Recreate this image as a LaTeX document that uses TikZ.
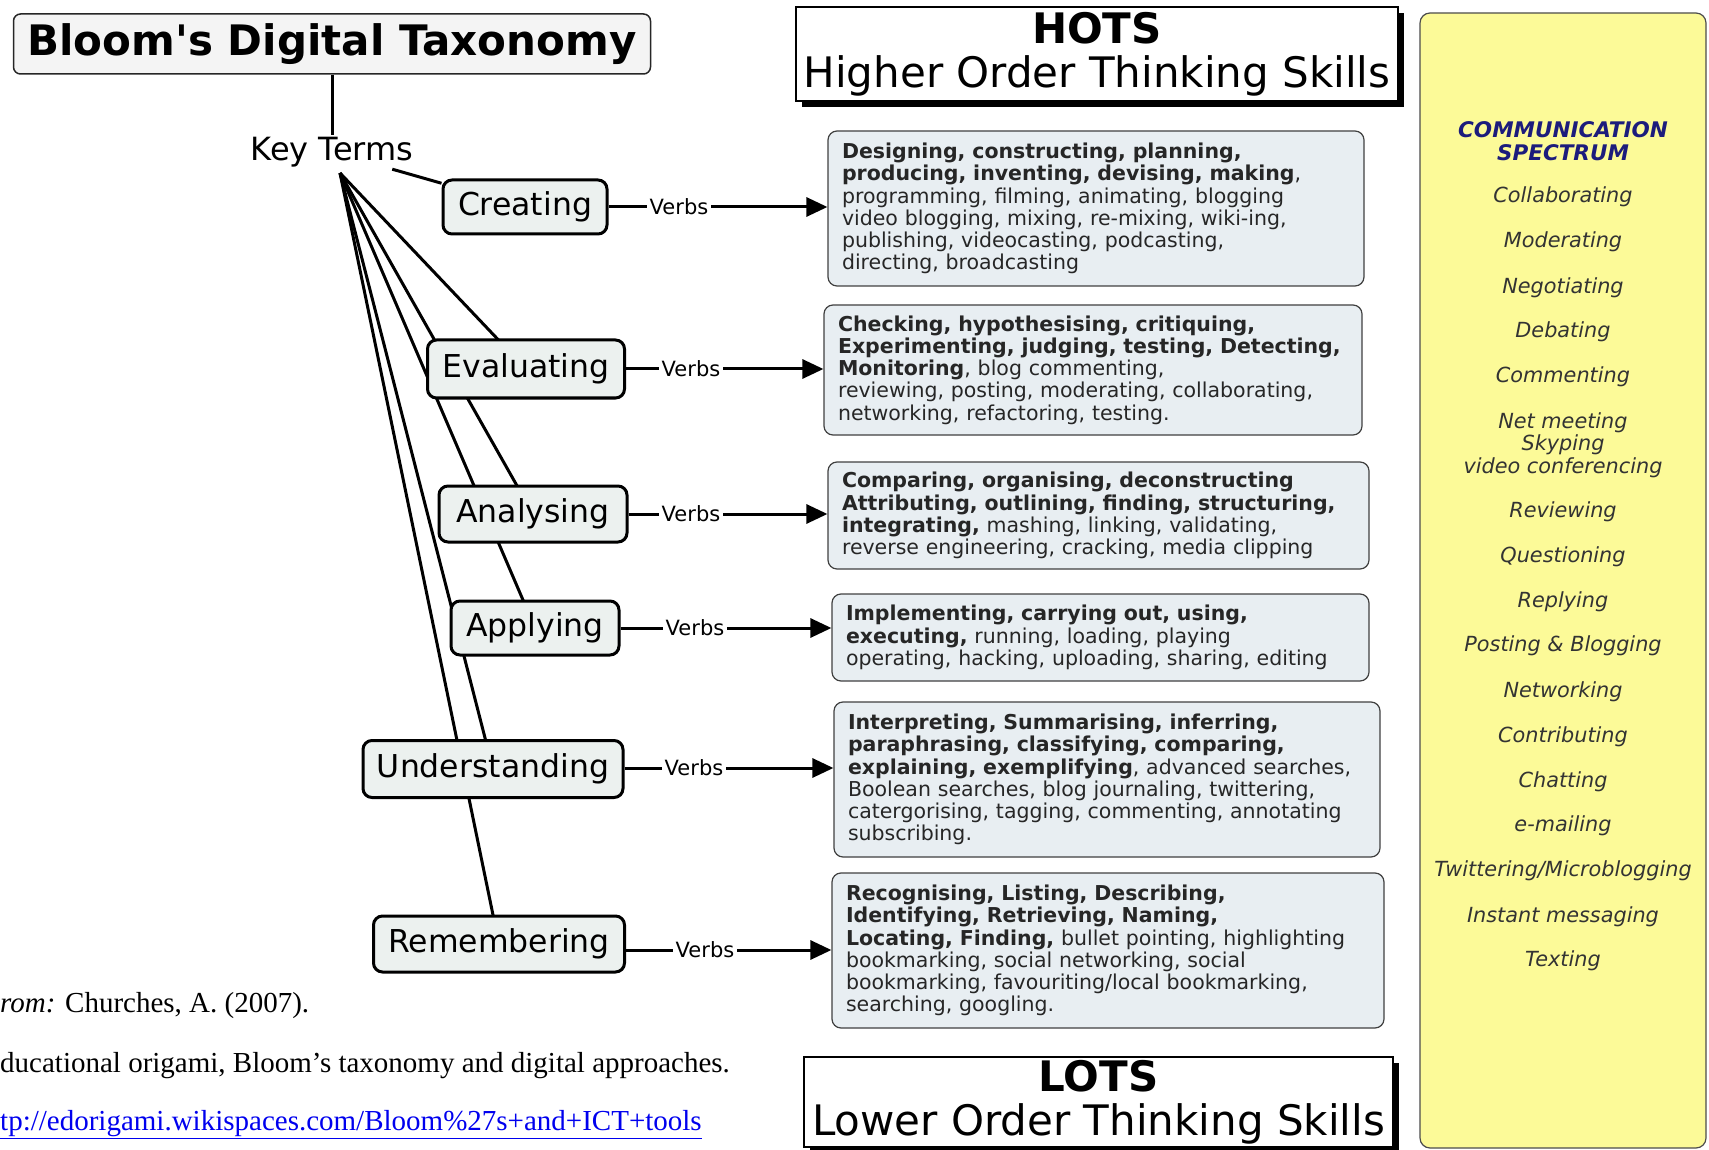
\documentclass[tikz,border=0pt]{standalone}
\usepackage{fontspec}
\setmainfont{DejaVu Sans}
\newfontfamily\citefont{Liberation Serif}
\usetikzlibrary{arrows.meta,positioning,backgrounds,shadows}

\definecolor{tierfill}{HTML}{ECF1EF}
\definecolor{verbfill}{HTML}{E8EEF2}
\definecolor{specfill}{HTML}{FCFA98}
\definecolor{specnavy}{HTML}{1C1C7C}
\definecolor{urlblue}{HTML}{0000EE}

\begin{document}
\begin{tikzpicture}[
  x=1pt, y=-1pt,
  font=\fontsize{20.5}{22.3}\selectfont,
  head/.style={rounded corners=7pt, draw=black!85, line width=1.5pt, fill=gray!9, inner sep=0pt, minimum width=637pt, minimum height=60pt, font=\fontsize{42}{44}\selectfont\bfseries},
  skills/.style={draw=black, line width=1.5pt, fill=white, inner sep=0pt, align=center, font=\fontsize{42}{44}\selectfont, drop shadow={shadow xshift=6pt, shadow yshift=-6pt, opacity=1, fill=black}},
  tier/.style={rounded corners=9pt, draw=black, line width=3pt, fill=tierfill, inner sep=0pt, font=\fontsize{31.5}{34}\selectfont},
  verbbox/.style={rounded corners=9pt, draw=black!75, line width=1.2pt, fill=verbfill, inner xsep=14pt, inner ysep=0pt, align=left, text=black!85},
  lbl/.style={inner sep=3pt, font=\fontsize{21}{22}\selectfont},
  conn/.style={line width=3pt},
  arr/.style={-{Triangle[length=21pt,width=19pt]}, line width=3pt},
  specbox/.style={rounded corners=10pt, draw=black!70, line width=1.2pt, fill=specfill, inner sep=0pt, minimum width=286pt, minimum height=1135pt},
  commitem/.style={align=center, inner sep=1pt, font=\fontsize{20.8}{22.3}\selectfont\itshape, text=black!80},
  cite/.style={anchor=west, inner sep=0pt, font=\citefont\fontsize{29}{32}\selectfont},
]
  \useasboundingbox (0,0) rectangle (1709,1150);

  % left: the taxonomy tree
  \node[head] (title) at (332,44) {Bloom\textquotesingle s Digital Taxonomy};
  \node[inner sep=2pt, font=\fontsize{32}{34}\selectfont] (keyterms) at (332,152) {Key Terms};
  \coordinate (hub) at (340,173);

  \node[tier, minimum width=164pt, minimum height=54pt] (creating) at (525,207) {Creating};
  \node[tier, minimum width=197pt, minimum height=58pt] (evaluating) at (526,369) {Evaluating};
  \node[tier, minimum width=188pt, minimum height=56pt] (analysing) at (533,514) {Analysing};
  \node[tier, minimum width=168pt, minimum height=54pt] (applying) at (535,628) {Applying};
  \node[tier, minimum width=260pt, minimum height=57pt] (understanding) at (493,769) {Understanding};
  \node[tier, minimum width=251pt, minimum height=56pt] (remembering) at (499,944) {Remembering};

  \draw[conn] (title) -- (keyterms);
  \draw[conn] (keyterms) -- (creating);
  \begin{scope}[on background layer]
    \foreach \n in {evaluating,analysing,applying,understanding,remembering}
      \draw[conn] (hub) -- (\n.center);
  \end{scope}

  % middle: verb lists
  \node[verbbox, text width=508pt, minimum width=536pt, minimum height=155pt] (verbs1) at (1096,208.5) {
    \textbf{Designing, constructing, planning,}\\
    \textbf{producing, inventing, devising, making},\\
    programming, filming, animating, blogging\\
    video blogging, mixing, re-mixing, wiki-ing,\\
    publishing, videocasting, podcasting,\\
    directing, broadcasting};
  \node[verbbox, text width=510pt, minimum width=538pt, minimum height=130pt] (verbs2) at (1093,370) {
    \textbf{Checking, hypothesising, critiquing,}\\
    \textbf{Experimenting, judging, testing, Detecting,}\\
    \textbf{Monitoring}, blog commenting,\\
    reviewing, posting, moderating, collaborating,\\
    networking, refactoring, testing.};
  \node[verbbox, text width=513pt, minimum width=541pt, minimum height=107pt] (verbs3) at (1098.5,515.5) {
    \textbf{Comparing, organising, deconstructing}\\
    \textbf{Attributing, outlining, finding, structuring,}\\
    \textbf{integrating,} mashing, linking, validating,\\
    reverse engineering, cracking, media clipping};
  \node[verbbox, text width=509pt, minimum width=537pt, minimum height=87pt] (verbs4) at (1100.5,637.5) {
    \textbf{Implementing, carrying out, using,}\\
    \textbf{executing,} running, loading, playing\\
    operating, hacking, uploading, sharing, editing};
  \node[verbbox, text width=518pt, minimum width=546pt, minimum height=155pt] (verbs5) at (1107,779.5) {
    \textbf{Interpreting, Summarising, inferring,}\\
    \textbf{paraphrasing, classifying, comparing,}\\
    \textbf{explaining, exemplifying}, advanced searches,\\
    Boolean searches, blog journaling, twittering,\\
    catergorising, tagging, commenting, annotating\\
    subscribing.};
  \node[verbbox, text width=524pt, minimum width=552pt, minimum height=155pt] (verbs6) at (1108,950.5) {
    \textbf{Recognising, Listing, Describing,}\\
    \textbf{Identifying, Retrieving, Naming,}\\
    \textbf{Locating, Finding,} bullet pointing, highlighting\\
    bookmarking, social networking, social\\
    bookmarking, favouriting/local bookmarking,\\
    searching, googling.};

  \foreach \lv/\vb/\k/\x/\y in {creating/verbs1/1/679/207, evaluating/verbs2/2/691/369,
      analysing/verbs3/3/691/514, applying/verbs4/4/695/628,
      understanding/verbs5/5/694/768, remembering/verbs6/6/705/950} {
    \node[lbl] (lbl\k) at (\x,\y) {Verbs};
    \draw[conn] (\lv.east |- lbl\k) -- (lbl\k);
    \draw[arr] (lbl\k) -- (\vb.west |- lbl\k);
  }

  \node[skills, minimum width=602pt, minimum height=94pt] (hots) at (1097,54) {\textbf{HOTS}\\Higher Order Thinking Skills};
  \node[skills, minimum width=589pt, minimum height=90pt] (lots) at (1098.5,1102) {\textbf{LOTS}\\Lower Order Thinking Skills};

  % right: communication spectrum
  \node[specbox] (spec) at (1563,580.5) {};
  \node[commitem, font=\fontsize{21.5}{23}\selectfont\bfseries\itshape, text=specnavy] (spectitle) at (1563,141) {COMMUNICATION\\SPECTRUM};
  \foreach \yy/\txt [count=\k] in {197/Collaborating, 242/Moderating, 288/Negotiating, 332/Debating,
      377/Commenting, 445/{Net meeting\\Skyping\\video conferencing}, 512/Reviewing, 557/Questioning,
      602/Replying, 646/{Posting \& Blogging}, 692/Networking, 737/Contributing, 782/Chatting,
      826/e-mailing, 871/{Twittering/Microblogging}, 917/{Instant messaging}, 961/Texting}
    \node[commitem] (item\k) at (1563,\yy) {\txt};

  % citation
  \node[cite] (cite1) at (0,1006) {\textit{rom:} Churches, A. (2007).};
  \node[cite] (cite2) at (0,1066) {ducational origami, Bloom’s taxonomy and digital approaches.};
  \node[cite, text=urlblue] (cite3) at (0,1125) {\underline{tp://edorigami.wikispaces.com/Bloom\%27s+and+ICT+tools}};
\end{tikzpicture}
\end{document}
